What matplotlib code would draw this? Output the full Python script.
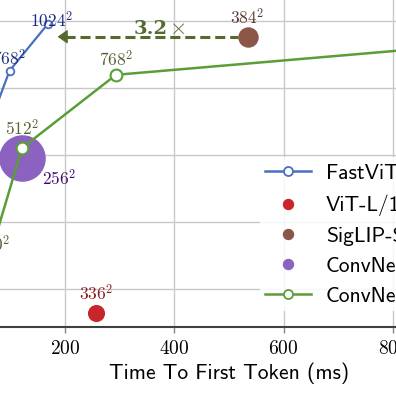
import matplotlib
matplotlib.use("Agg")
import matplotlib.pyplot as plt
from matplotlib.lines import Line2D
from matplotlib.ticker import FuncFormatter

plt.rcParams['mathtext.fontset'] = 'cm'

# FastViTHD (blue line)
fastvit_ttft = [25, 57, 98, 168]
fastvit_acc = [59.8, 62.72, 64.52, 65.92]
fastvit_res = [256, 512, 768, 1024]

# ConvNeXt-L (green line)
convnext_ttft = [61, 121, 293, 900]
convnext_acc = [58.92, 62.21, 64.40, 65.25]
convnext_res = [320, 512, 768, 1024]

# single encoders
vit_ttft, vit_acc, vit_res = 256, 57.28, 336
siglip_ttft, siglip_acc, siglip_res = 534, 65.54, 384
xxl_ttft, xxl_acc, xxl_res = 121, 61.90, 256

speedup = 3.2
arrow_tip = 186

x_ticks = [0, 200, 400, 600, 800, 1000]
y_ticks = [58, 60, 62, 64, 66]

legend_labels = ["FastViTHD (Ours)", "ViT-L/14", "SigLIP-SO400M", "ConvNeXt-XXL", "ConvNeXt-L"]

blue, blue_t = '#4a6ec2', '#1b2a83'
green, green_t = '#5a9e38', '#556033'
purple, purple_t = '#8b62c0', '#3b0a6e'
brown, brown_t = '#8b5548', '#5b3b33'
red, red_t = '#c9262c', '#8a1a1a'
olive = '#566a30'

fig = plt.figure(figsize=(3.96, 3.96), dpi=100)
ax = fig.add_axes([-44 / 396, 69 / 396, 546 / 396, 329 / 396])
ax.set_xlim(0, 975)
ax.set_ylim(56.85, 66.70)

ax.grid(True, color='#c8c8c8', lw=1.0, zorder=0)
ax.set_axisbelow(True)
ax.set_xticks(x_ticks)
ax.set_yticks(y_ticks)
ax.xaxis.set_major_formatter(FuncFormatter(lambda v, p: f"${int(v)}$"))
ax.tick_params(axis='x', labelsize=14, length=4, width=1, color='#888888', pad=5)
ax.tick_params(axis='y', labelleft=False, length=0)
for s in ['top', 'right', 'left']:
    ax.spines[s].set_visible(False)
ax.spines['bottom'].set_color('#404040')
ax.spines['bottom'].set_linewidth(1.5)

ax.set_xlabel("Time To First Token (ms)", fontfamily='cmss10', fontsize=15.5, labelpad=3)

# lines
ax.plot(fastvit_ttft, fastvit_acc, color=blue, lw=1.6, marker='o', ms=5.5,
        mfc='white', mec=blue, mew=1.3, zorder=4)
ax.plot(convnext_ttft, convnext_acc, color=green, lw=1.8, marker='o', ms=8.5,
        mfc='white', mec=green, mew=1.5, zorder=4)

# single points
ax.plot(xxl_ttft, xxl_acc, 'o', color=purple, ms=32.5, zorder=3)
ax.plot(siglip_ttft, siglip_acc, 'o', color=brown, ms=13.7, zorder=3)
ax.plot(vit_ttft, vit_acc, 'o', color=red, ms=11.3, zorder=3)

lab_fs = 12.5
blue_off = [(0, 3), (-6, 1), (0, 1), (3, -5)]
for x, y, r, off in zip(fastvit_ttft, fastvit_acc, fastvit_res, blue_off):
    ax.annotate(f"${r}^2$", (x, y), xytext=off, textcoords='offset points',
                ha='center', va='bottom', fontsize=lab_fs, color=blue_t, zorder=6)
green_off = [(3, 2), (0, 6), (0, 3), (0, 6)]
for x, y, r, off in zip(convnext_ttft, convnext_acc, convnext_res, green_off):
    ax.annotate(f"${r}^2$", (x, y), xytext=off, textcoords='offset points',
                ha='center', va='bottom', fontsize=lab_fs, color=green_t, zorder=6)
ax.annotate(f"${siglip_res}^2$", (siglip_ttft, siglip_acc), xytext=(0, 6),
            textcoords='offset points', ha='center', va='bottom', fontsize=lab_fs, color=brown_t)
ax.annotate(f"${vit_res}^2$", (vit_ttft, vit_acc), xytext=(0, 6),
            textcoords='offset points', ha='center', va='bottom', fontsize=lab_fs, color=red_t)
ax.annotate(f"${xxl_res}^2$", (xxl_ttft, xxl_acc), xytext=(14, -15),
            textcoords='offset points', ha='left', va='center', fontsize=lab_fs, color=purple_t)

# speed-up arrow
head_base = arrow_tip + 14
ax.plot([head_base, siglip_ttft - 17], [siglip_acc, siglip_acc], color=olive,
        lw=2.2, ls=(0, (3.3, 1.6)), zorder=3)
ax.annotate('', xy=(arrow_tip, siglip_acc), xytext=(head_base, siglip_acc),
            arrowprops=dict(arrowstyle='-|>,head_length=0.6,head_width=0.42',
                            color=olive, lw=1, shrinkA=0, shrinkB=0))
ax.text(356, siglip_acc + 0.08, f"{speedup}", color=olive, fontfamily='DejaVu Serif',
        fontweight='bold', fontsize=14, ha='center', va='baseline')
ax.text(391, siglip_acc + 0.08, r"$\times$", color=olive,
        fontsize=16, ha='left', va='baseline')

handles = [
    Line2D([], [], color=blue, lw=1.8, marker='o', ms=6.5, mfc='white', mec=blue, mew=1.3),
    Line2D([], [], ls='none', marker='o', ms=7.2, color=red),
    Line2D([], [], ls='none', marker='o', ms=7.2, color=brown),
    Line2D([], [], ls='none', marker='o', ms=7.2, color=purple),
    Line2D([], [], color=green, lw=1.8, marker='o', ms=6.5, mfc='white', mec=green, mew=1.3),
]
leg = ax.legend(handles, legend_labels, loc='upper left',
                bbox_to_anchor=(260 / 396, 1 - 157 / 396), bbox_transform=fig.transFigure,
                borderaxespad=0, prop={'family': 'cmss10', 'size': 15.5},
                handlelength=2.1, handletextpad=0.7, labelspacing=0.5, borderpad=0.25,
                frameon=True, framealpha=0.85, edgecolor='none', fancybox=False)
leg.set_zorder(10)

fig.savefig("out.png", dpi=100)
